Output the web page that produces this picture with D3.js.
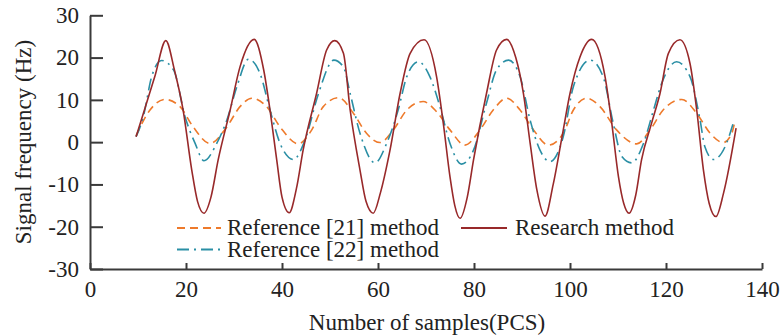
<!DOCTYPE html>
<html>
<head>
	<meta charset="utf-8">
	<title></title>
	<script src="https://d3js.org/d3.v7.min.js"></script>
	<style>
		body{ margin:0; background:#fff; }
		text{ font-family:"Liberation Serif","Times New Roman",serif; fill:#222; }
		.axis path, .axis line{ stroke:#3a3a3a; stroke-width:2; }
		.axis text{ font-size:23px; }
	</style>
</head>
<body>
	<svg width='782' height='335'></svg>
</body>
<script>
	// samples (x) and signal frequency (y)
	var ref21X = [9.6,12.5,15.6,18.75,21.5,25,28.5,31.25,33.7,36.8,39.6,43.4,46.2,48.6,51.8,54.9,57.6,60.4,63.2,66,69.4,72.2,75,78.1,81.25,84,86.8,89.6,92.4,95.5,98.6,100.7,103.5,106.25,109.7,113.9,116.7,119.4,123.3,126.4,129.2,131.9,133.7,134.4];
	var ref21Y = [1.5,7.6,10.1,8.4,3.6,-0.3,3.6,8.4,10.4,8.4,3.6,-0.4,2.9,8.4,10.5,6.8,2.1,-0.1,2.9,7.6,9.6,7.2,2.9,-0.7,2.9,7.6,10.4,7.6,2.9,-0.7,2.1,7.6,10.4,8.4,2.9,-0.4,2.9,7.6,10.1,6.8,2.1,-0.1,2.1,5.2];

	var ref22X = [9.6,11.1,12.85,14.9,17.4,19.8,21.9,23.75,26.4,28.5,30.6,33,35.4,37.5,39.6,42.4,44.8,47.6,50.8,52.8,54.2,56.25,59.4,61.8,64.2,66,68.4,70.8,72.9,75,77.4,79.9,82.6,84.7,87.2,89.6,91.7,93.75,95.8,98.6,100.7,104.2,106.9,109,110.8,112.85,115.3,117.4,119.1,122.2,125,127.1,128.1,129.9,132.6,134];
	var ref22Y = [1.3,6.0,15.5,19.3,17.1,6.0,-0.3,-4.4,-0.3,5.2,13.1,19.6,16.3,7.6,-0.3,-4.1,0.5,11.5,19.4,17.8,11.5,2.1,-4.9,-0.3,7.6,15.5,19.0,15.5,8.4,-0.3,-5.2,-1.9,9.2,17.1,19.4,15.5,5.2,-1.9,-4.6,1.3,13.1,19.4,15.5,4.5,-3.4,-4.9,-0.3,7.6,13.9,19.0,15.5,5.2,-1.1,-4.1,-0.3,4.5];

	var researchX = [9.6,11.5,13.5,15.8,17.6,19.4,21.2,22.4,23.75,25.2,26.7,29.2,31.25,34.2,36.2,37.5,38.9,40,41.5,43,44.4,47.2,49.3,51,52.8,54.2,56.25,57.5,59,60.5,62.5,64.6,66.7,69.6,72.2,73.6,75,76,77.1,78.6,79.9,82.6,84.7,86.8,88.7,90.3,91.7,93.1,94.8,96.5,98.3,100,102.1,104.5,107.3,108.7,110.1,111.2,112.3,113.7,114.9,117,118.75,120.5,122.9,125,126.4,127.8,129,130.4,132,134.6];
	var researchY = [1.3,8.2,15.5,24.0,17,7.6,-6.6,-14,-16.8,-13,-4.2,7.6,17.8,24.3,17,7.6,-4.2,-13,-16.7,-11,-1.9,11.5,21.8,24.0,21,7.6,-6.6,-14,-16.8,-12,-1.9,11.5,21,24.2,15.5,4.5,-8.2,-15,-18,-13,-4.2,11.5,21.8,24.3,20,11.5,-0.3,-11.3,-17.5,-10,1,11.5,20.2,24.3,15.5,4.5,-8.2,-14.5,-16.8,-12.5,-4.2,4.5,11.5,21,24.2,18.6,7.6,-6.6,-14.5,-17.6,-12,3.3];

	var xTicks = [0,20,40,60,80,100,120,140];
	var yTicks = [-30,-20,-10,0,10,20,30];

	var svg = d3.select('svg');
	var x = d3.scaleLinear().domain([0, 140]).range([90, 762]);
	var y = d3.scaleLinear().domain([-30, 30]).range([269, 15.3]);

	// plain hyphen for negatives, like the original
	var fmt = function(d){ return String(d); };

	svg.append('g')
		.attr('class', 'axis')
		.attr('transform', 'translate(0,269)')
		.call(d3.axisBottom(x).tickValues(xTicks).tickFormat(fmt).tickSize(-6).tickSizeOuter(0).tickPadding(12))
		.call(function(g){ g.selectAll('text').attr('dy', '0.71em'); });

	svg.append('g')
		.attr('class', 'axis')
		.attr('transform', 'translate(90,0)')
		.call(d3.axisLeft(y).tickValues(yTicks).tickFormat(fmt).tickSize(-13).tickSizeOuter(0).tickPadding(11));

	svg.selectAll('.axis .domain').attr('fill', 'none');

	var line = d3.line()
		.x(function(d){ return x(d[0]); })
		.y(function(d){ return y(d[1]); })
		.curve(d3.curveMonotoneX);

	var series = [
		{name:'Reference [21] method', xs:ref21X, ys:ref21Y, color:'#ee7a2b', dash:'8,5'},
		{name:'Reference [22] method', xs:ref22X, ys:ref22Y, color:'#2a8fa5', dash:'12,5,2,5'},
		{name:'Research method', xs:researchX, ys:researchY, color:'#98292a', dash:null}
	];

	series.forEach(function(s){
		svg.append('path')
			.datum(d3.zip(s.xs, s.ys))
			.attr('fill', 'none')
			.attr('stroke', s.color)
			.attr('stroke-width', 1.6)
			.attr('stroke-dasharray', s.dash)
			.attr('d', line);
	});

	// legend
	var legendPos = [[177, 228], [177, 249.5], [461, 228]];
	series.forEach(function(s, i){
		var g = svg.append('g').attr('transform', 'translate(' + legendPos[i][0] + ',' + legendPos[i][1] + ')');
		g.append('line')
			.attr('x1', 0).attr('x2', i == 2 ? 46 : 44)
			.attr('stroke', s.color)
			.attr('stroke-width', 2)
			.attr('stroke-dasharray', s.dash);
		g.append('text')
			.attr('x', i == 2 ? 54 : 50)
			.attr('dy', '0.31em')
			.style('font-size', '23px')
			.text(s.name);
	});

	svg.append('text')
		.attr('x', 427)
		.attr('y', 330)
		.attr('text-anchor', 'middle')
		.style('font-size', '23px')
		.text('Number of samples(PCS)');

	svg.append('text')
		.attr('transform', 'translate(31,142) rotate(-90)')
		.attr('text-anchor', 'middle')
		.style('font-size', '23px')
		.text('Signal frequency (Hz)');
</script>
</html>
